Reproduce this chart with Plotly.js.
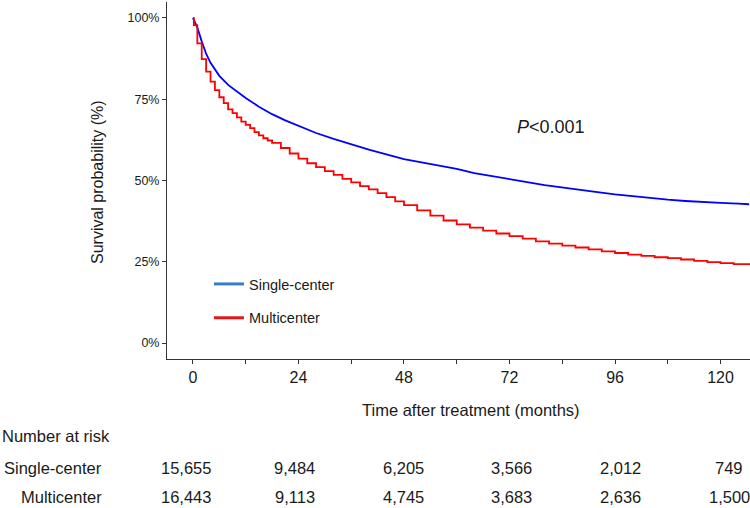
<!DOCTYPE html>
<html>
<head>
<meta charset="utf-8">
<script src="https://cdn.plot.ly/plotly-3.0.1.min.js"></script>
<style>html,body{margin:0;padding:0;background:#fff;}#chart{width:750px;height:508px;}</style>
</head>
<body>
<div id="chart"></div>
<script>
// ---- Data ----
const singleMonths = [0, 0.5, 1, 2, 3, 4, 5, 6, 8, 10, 12, 15, 18, 21, 24, 28, 32, 36, 40, 44, 48, 52, 56, 60, 64, 68, 72, 76, 80, 84, 88, 92, 96, 100, 104, 108, 112, 116, 120, 124, 126.5];
const singleSurv   = [100, 98.7, 97.0, 92.8, 89.0, 86.2, 84.0, 82.2, 79.4, 77.4, 75.4, 72.7, 70.4, 68.5, 66.8, 64.6, 62.8, 61.1, 59.5, 58.0, 56.6, 55.6, 54.7, 53.6, 52.3, 51.3, 50.4, 49.5, 48.6, 47.8, 47.1, 46.4, 45.7, 45.1, 44.6, 44.1, 43.7, 43.3, 43.1, 42.9, 42.7];

const multiMonths = [0, 0.2, 1, 2, 3, 4, 5, 6, 7, 8, 9, 10, 11, 12, 13, 14, 15, 16, 17, 18, 20, 22, 24, 26, 28, 30, 32, 34, 36, 38, 40, 42, 44, 46, 48, 51, 54, 57, 60, 63, 66, 69, 72, 75, 78, 81, 84, 87, 90, 93, 96, 99, 102, 105, 108, 111, 114, 117, 120, 123, 126.5];
const multiSurv   = [100, 97.8, 92.2, 87.3, 83.5, 80.4, 77.8, 75.6, 73.8, 71.9, 70.7, 69.4, 68.1, 67.1, 66.1, 64.9, 63.9, 63.0, 62.3, 61.6, 60.0, 58.3, 56.7, 55.3, 54.1, 52.9, 51.7, 50.5, 49.4, 48.3, 47.3, 46.1, 44.9, 43.6, 42.4, 40.8, 39.2, 37.7, 36.5, 35.5, 34.6, 33.7, 32.9, 32.1, 31.3, 30.6, 30.0, 29.4, 28.8, 28.2, 27.7, 27.2, 26.8, 26.4, 26.1, 25.7, 25.3, 24.9, 24.6, 24.3, 24.0];

const groupNames = ['Single-center', 'Multicenter'];
const riskTimes = [0, 24, 48, 72, 96, 120];
const riskSingle = [15655, 9484, 6205, 3566, 2012, 749];
const riskMulti  = [16443, 9113, 4745, 3683, 2636, 1500];
const yTicks = [0, 25, 50, 75, 100];
const pText = '<i>P</i>&lt;0.001';

// ---- Layout helpers (pixel -> paper) ----
const W = 750, H = 508;
const M = {l: 167, r: 0, t: 2, b: 149};
const pw = W - M.l - M.r, ph = H - M.t - M.b;
const px = x => (x - M.l) / pw;
const py = y => (H - M.b - y) / ph;
const FONT = 'Liberation Sans, Arial, Helvetica, sans-serif';
const TXT = '#1a1a1a';

const traces = [
  {x: singleMonths, y: singleSurv, type: 'scatter', mode: 'lines', line: {color: '#0000FF', width: 1.8, shape: 'linear'}, showlegend: false, hoverinfo: 'skip'},
  {x: multiMonths, y: multiSurv, type: 'scatter', mode: 'lines', line: {color: '#FF0000', width: 1.8, shape: 'hv'}, showlegend: false, hoverinfo: 'skip'},
  {x: [null], y: [null], type: 'scatter', mode: 'lines', name: groupNames[0], legendgroup: 'a', line: {color: '#3A7CC8', width: 3}},
  {x: [null], y: [null], type: 'scatter', mode: 'lines', name: groupNames[1], legendgroup: 'b', line: {color: '#E8141C', width: 3}}
];

const annotations = [
  {text: pText, xref: 'paper', yref: 'paper', x: px(551), y: py(127), showarrow: false, font: {family: FONT, size: 18, color: TXT}, xanchor: 'center', yanchor: 'middle'},
  {text: 'Survival probability (%)', xref: 'paper', yref: 'paper', x: px(97), y: py(182), textangle: -90, showarrow: false, font: {family: FONT, size: 16, color: TXT}, xanchor: 'center', yanchor: 'middle'},
  {text: 'Time after treatment (months)', xref: 'paper', yref: 'paper', x: px(471), y: py(410), showarrow: false, font: {family: FONT, size: 16.5, color: TXT}, xanchor: 'center', yanchor: 'middle'},
  {text: 'Number at risk', xref: 'paper', yref: 'paper', x: px(0), y: py(436), showarrow: false, font: {family: FONT, size: 16.5, color: TXT}, xanchor: 'left', yanchor: 'middle'},
  {text: groupNames[0], xref: 'paper', yref: 'paper', x: px(104), y: py(468), showarrow: false, font: {family: FONT, size: 16.5, color: TXT}, xanchor: 'right', yanchor: 'middle'},
  {text: groupNames[1], xref: 'paper', yref: 'paper', x: px(104), y: py(497), showarrow: false, font: {family: FONT, size: 16.5, color: TXT}, xanchor: 'right', yanchor: 'middle'}
];
const fmt = n => n.toLocaleString('en-US');
riskTimes.forEach((t, i) => {
  const cx = 186 + (t / 24) * 108.6;
  annotations.push({text: fmt(riskSingle[i]), xref: 'paper', yref: 'paper', x: px(cx), y: py(468), showarrow: false, font: {family: FONT, size: 16.5, color: TXT}, xanchor: 'center', yanchor: 'middle'});
  annotations.push({text: fmt(riskMulti[i]), xref: 'paper', yref: 'paper', x: px(cx), y: py(497), showarrow: false, font: {family: FONT, size: 16.5, color: TXT}, xanchor: 'center', yanchor: 'middle'});
});

const layout = {
  width: W, height: H,
  margin: M,
  paper_bgcolor: '#fff', plot_bgcolor: '#fff',
  font: {family: FONT, color: TXT},
  xaxis: {
    range: [-5.9, 126.7], tickvals: riskTimes, ticktext: riskTimes.map(String),
    showgrid: false, zeroline: false, showline: true, linecolor: '#333', linewidth: 1,
    ticks: 'outside', ticklen: 4, tickcolor: '#333', tickwidth: 1,
    minor: {tickvals: [12, 36, 60, 84, 108], ticks: 'outside', ticklen: 4, tickcolor: '#333', showgrid: false},
    tickfont: {family: FONT, size: 16, color: TXT}, fixedrange: true, automargin: false
  },
  yaxis: {
    range: [-4.9, 104.9], tickvals: yTicks, ticktext: yTicks.map(v => v + '%'),
    showgrid: false, zeroline: false, showline: true, linecolor: '#333', linewidth: 1,
    ticks: 'outside', ticklen: 4, tickcolor: '#333', tickwidth: 1,
    tickfont: {family: FONT, size: 12.5, color: TXT}, fixedrange: true, automargin: false
  },
  showlegend: true,
  legend: {x: px(209), y: py(268), xanchor: 'left', yanchor: 'top', bgcolor: 'rgba(0,0,0,0)',
           font: {family: FONT, size: 14.5, color: TXT}, traceorder: 'grouped', tracegroupgap: 12, itemwidth: 30},
  annotations: annotations
};

Plotly.newPlot('chart', traces, layout, {displayModeBar: false, staticPlot: true});
</script>
</body>
</html>
